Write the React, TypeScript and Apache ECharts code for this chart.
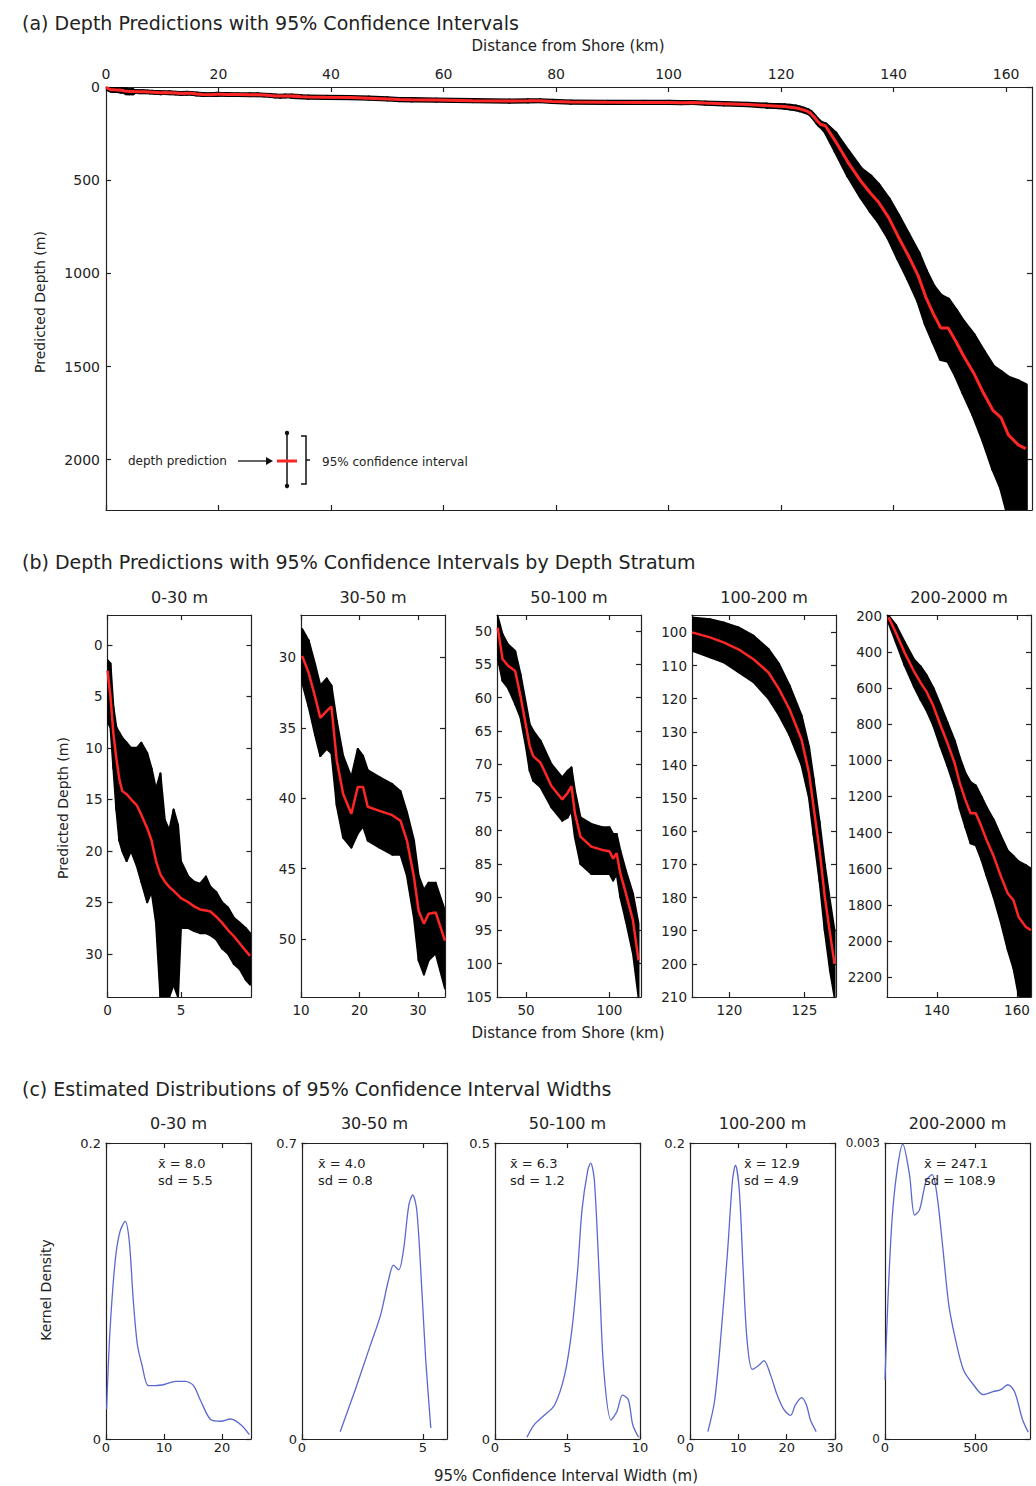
import React, { useEffect, useRef } from "react";
import * as echarts from "echarts";

// ---------------- data ----------------
const strata = ["0-30 m", "30-50 m", "50-100 m", "100-200 m", "200-2000 m"];

// Stratum 0-30 m : distance (km), predicted depth (m), 95% CI shallow / deep bound (m)
const s1Dist = [0.0, 0.2, 0.4, 0.6, 0.8, 1.0, 1.3, 1.6, 2.0, 2.3, 2.7, 3.0, 3.3, 3.6, 3.9, 4.2, 4.5, 4.8, 5.0, 5.5, 5.9, 6.3, 6.7, 7.0, 7.4, 7.8, 8.2, 8.6, 9.0, 9.4, 9.7];
const s1Depth = [2.5, 5, 8.6, 11, 13, 14.2, 14.5, 15, 15.6, 16.5, 17.8, 19, 21, 22.3, 23, 23.5, 23.9, 24.3, 24.6, 25, 25.4, 25.7, 25.8, 25.9, 26.4, 27, 27.7, 28.3, 29, 29.7, 30.2];
const s1Lo = [1.5, 1.8, 6, 8, 8.5, 9, 9.5, 10, 10, 9.5, 10.5, 12, 14, 12.5, 17, 18, 16, 17.5, 21, 22.5, 23, 23.2, 22.5, 23.5, 24, 25, 25.5, 26.5, 27, 27.5, 28];
const s1Hi = [7.5, 8, 12, 16, 19, 20, 21, 20, 21.5, 23, 25, 24, 27, 34.2, 34.2, 34.2, 33, 34.2, 27.5, 27.5, 27.8, 28, 28, 28.2, 28.6, 29.5, 30, 31, 31.5, 32.5, 33];

// Stratum 30-50 m
const s2Dist = [10.2, 11.3, 12.4, 13.3, 14.4, 15.2, 16.1, 17.2, 18.6, 19.7, 20.6, 21.4, 23.4, 25.6, 27.0, 28.1, 29.3, 30.1, 31.0, 31.8, 33.0, 34.6];
const s2Depth = [29.9, 31.1, 32.8, 34.3, 33.8, 33.5, 37.3, 39.7, 41.1, 39.2, 39.2, 40.6, 40.9, 41.2, 41.6, 43.0, 45.6, 48.0, 48.9, 48.2, 48.1, 50.1];
const s2Lo = [28.0, 28.8, 30.5, 32.0, 31.5, 32.0, 34.5, 37.0, 38.5, 36.5, 37.0, 38.0, 38.5, 39.0, 39.5, 41.0, 43.0, 45.5, 46.5, 46.0, 46.0, 48.0];
const s2Hi = [31.8, 33.5, 35.5, 37.0, 36.5, 36.8, 40.5, 42.8, 43.5, 42.5, 42.0, 43.0, 43.5, 44.0, 44.0, 45.5, 48.5, 51.5, 52.5, 51.5, 51.0, 53.5];

// Stratum 50-100 m
const s3Dist = [33.0, 35.9, 39.1, 43.5, 46.7, 50.0, 52.2, 54.3, 58.7, 65.2, 71.7, 75.0, 77.2, 79.3, 82.6, 89.1, 95.6, 100.0, 102.2, 104.3, 106.5, 109.8, 114.1, 117.4];
const s3Depth = [49.5, 54.2, 55.2, 56.0, 59.8, 64.3, 67.3, 68.8, 69.8, 73.3, 75.3, 74.3, 73.3, 77.4, 80.9, 82.4, 82.9, 83.1, 84.2, 83.4, 86.4, 89.4, 93.5, 99.5];
const s3Lo = [47.8, 50.5, 52, 53, 56.5, 61, 64, 65, 66.5, 70, 72, 71, 70.5, 74, 78, 79, 79.5, 79.5, 80.5, 80.5, 83, 86, 89.5, 94];
const s3Hi = [54, 57.5, 58.5, 61, 63, 67.5, 71, 72.5, 73.5, 76.5, 78.5, 78, 77, 81, 85, 86.5, 86.5, 86.5, 87.5, 86.5, 90, 93.5, 98.5, 105];

// Stratum 100-200 m
const s4Dist = [117.5, 118.7, 119.6, 120.6, 121.6, 122.6, 123.3, 124.0, 124.8, 125.3, 125.6, 126.0, 126.35, 126.7, 127.0];
const s4Depth = [100, 101.5, 103, 105.1, 108.1, 112.1, 117.1, 123.2, 132.3, 142.4, 152.5, 165.6, 179.7, 190.8, 200];
const s4Lo = [95.5, 96, 97, 98.5, 101, 105, 109.5, 116, 125, 134.5, 144, 157, 170, 181, 190];
const s4Hi = [105.5, 107.5, 109, 112, 115, 120, 125, 131, 140, 150, 161, 175, 190, 202, 210];

// Stratum 200-2000 m
const s5Dist = [127.9, 129.7, 131.9, 134.2, 135.9, 137.3, 139.1, 140.8, 142.6, 144.4, 145.7, 147.1, 148.4, 149.7, 151.1, 152.4, 154.2, 156.0, 157.7, 159.1, 160.4, 162.2, 163.5];
const s5Depth = [209, 293, 404, 506, 570, 617, 700, 802, 904, 1015, 1126, 1219, 1293, 1293, 1367, 1441, 1533, 1644, 1737, 1774, 1867, 1922, 1941];
const s5Lo = [200, 250, 345, 440, 480, 525, 600, 690, 790, 890, 985, 1070, 1120, 1140, 1200, 1260, 1330, 1420, 1500, 1530, 1560, 1580, 1600];
const s5Hi = [240, 345, 475, 590, 665, 720, 810, 920, 1030, 1150, 1270, 1370, 1460, 1470, 1550, 1640, 1760, 1900, 2050, 2150, 2300, 2350, 2400];

// Kernel densities of 95% CI widths
const c1Width = [0.1, 0.7, 1.6, 2.4, 3.3, 4.0, 4.7, 5.4, 6.2, 7.3, 8.5, 10.2, 12.0, 13.7, 15.1, 16.3, 18.1, 19.8, 21.5, 23.3, 24.7];
const c1Dens = [0.020, 0.074, 0.121, 0.140, 0.147, 0.134, 0.094, 0.064, 0.050, 0.036, 0.036, 0.037, 0.039, 0.039, 0.036, 0.026, 0.013, 0.012, 0.0135, 0.0095, 0.003];
const c2Width = [1.58, 2.2, 2.83, 3.25, 3.58, 3.79, 4.0, 4.2, 4.42, 4.58, 4.75, 4.96, 5.12, 5.33];
const c2Dens = [0.017, 0.116, 0.222, 0.293, 0.376, 0.411, 0.40, 0.447, 0.553, 0.577, 0.541, 0.352, 0.187, 0.026];
const c3Width = [2.2, 2.7, 3.4, 4.1, 4.8, 5.3, 5.7, 6.0, 6.4, 6.6, 6.85, 7.2, 7.5, 8.0, 8.4, 8.8, 9.2, 9.5, 9.9];
const c3Dens = [0.003, 0.024, 0.040, 0.057, 0.108, 0.184, 0.285, 0.387, 0.454, 0.466, 0.438, 0.269, 0.117, 0.032, 0.046, 0.074, 0.066, 0.024, 0.003];
const c4Width = [3.7, 5.1, 6.5, 7.8, 8.8, 9.4, 10.2, 11.0, 11.8, 12.9, 14.3, 15.3, 16.7, 18.0, 19.4, 20.8, 21.8, 23.1, 24.1, 24.9, 26.1];
const c4Dens = [0.005, 0.026, 0.074, 0.128, 0.175, 0.185, 0.168, 0.114, 0.067, 0.047, 0.050, 0.053, 0.043, 0.030, 0.020, 0.016, 0.023, 0.028, 0.023, 0.013, 0.005];
const c5Width = [0, 16, 38, 65, 98, 135, 163, 190, 228, 260, 287, 320, 352, 390, 433, 488, 542, 596, 639, 677, 715, 758, 790];
const c5Dens = [0.0006, 0.0014, 0.0022, 0.0027, 0.00299, 0.00268, 0.00227, 0.00232, 0.00262, 0.00268, 0.00247, 0.00192, 0.00136, 0.0010, 0.0007, 0.00055, 0.00045, 0.00048, 0.0005, 0.00055, 0.00048, 0.0002, 0.00007];

const ciMeans = ["8.0", "4.0", "6.3", "12.9", "247.1"];
const ciSds = ["5.5", "0.8", "1.2", "4.9", "108.9"];

// axis ranges and tick labels
const aDistRange = [0, 164.6];
const aDepthRange = [0, 2270];
const aDistTicks = [0, 20, 40, 60, 80, 100, 120, 140, 160];
const aDepthTicks = [0, 500, 1000, 1500, 2000];
const bDistRanges = [[0, 9.8], [10, 34.6], [32.6, 118.9], [117.5, 127.1], [127.5, 163.5]];
const bDepthRanges = [[-2.9, 34.2], [27, 54.1], [47.6, 105], [94.75, 210], [196, 2310]];
const bDistTicks = [[0, 5], [10, 20, 30], [50, 100], [120, 125], [140, 160]];
const bDepthTicks = [
  [0, 5, 10, 15, 20, 25, 30],
  [30, 35, 40, 45, 50],
  [50, 55, 60, 65, 70, 75, 80, 85, 90, 95, 100, 105],
  [100, 110, 120, 130, 140, 150, 160, 170, 180, 190, 200, 210],
  [200, 400, 600, 800, 1000, 1200, 1400, 1600, 1800, 2000, 2200],
];
const cWidthMax = [25, 6, 10, 30, 800];
const cWidthTicks = [[0, 10, 20], [0, 5], [0, 5, 10], [0, 10, 20, 30], [0, 500]];
const cDensityMax = [0.2, 0.7, 0.5, 0.2, 0.003];

// ---------------- layout / style ----------------
const FONT = "DejaVu Sans";
const INK = "#222";
const RED = "#ff2626";
const BLUE = "#5a68cf";
const A_RECT = { left: 106, top: 87, width: 926, height: 423 };
const B_LEFTS = [107.5, 301, 497, 692, 887];
const B_TOP = 615, B_H = 382, B_W = 144;
const C_LEFTS = [106, 302, 495, 690, 885];
const C_TOP = 1143, C_H = 296, C_W = 145;
const STAT_OFFSETS = [52, 16, 15, 54, 39];

const strataDist = [s1Dist, s2Dist, s3Dist, s4Dist, s5Dist];
const strataDepth = [s1Depth, s2Depth, s3Depth, s4Depth, s5Depth];
const strataLo = [s1Lo, s2Lo, s3Lo, s4Lo, s5Lo];
const strataHi = [s1Hi, s2Hi, s3Hi, s4Hi, s5Hi];
const densW = [c1Width, c2Width, c3Width, c4Width, c5Width];
const densD = [c1Dens, c2Dens, c3Dens, c4Dens, c5Dens];

function axis(gi: number, position: string, min: number, max: number, ticks: number[], show: boolean, fs: number, inverse: boolean, margin: number) {
  return {
    type: "value",
    gridIndex: gi,
    position,
    min,
    max,
    inverse,
    axisLine: { show: true, onZero: false, lineStyle: { color: INK, width: 1.2 } },
    axisTick: { show: true, inside: true, length: 5, customValues: ticks, lineStyle: { color: INK, width: 1.2 } },
    axisLabel: {
      show,
      customValues: ticks,
      color: INK,
      fontSize: fs,
      fontFamily: FONT,
      margin,
      hideOverlap: false,
      formatter: (v: number) => String(v),
    },
    splitLine: { show: false },
  };
}

function buildOption() {
  const grids: any[] = [];
  const xAxes: any[] = [];
  const yAxes: any[] = [];
  const series: any[] = [];

  const addGrid = (left: number, top: number, width: number, height: number) => {
    grids.push({ left, top, width, height, containLabel: false, outerBoundsMode: "none" });
    return grids.length - 1;
  };

  const bandSeries = (gi: number, dist: number[], depth: number[], lo: number[], hi: number[], edgeW: number, redW: number) => {
    // each item: one segment of the confidence band between consecutive predictions
    const segs: number[][] = [];
    for (let i = 0; i < dist.length - 1; i++) {
      segs.push([dist[i], lo[i], hi[i], dist[i + 1], lo[i + 1], hi[i + 1]]);
    }
    const pred = dist.map((d, i) => [d, depth[i]]);
    const ax = { xAxisIndex: 2 * gi, yAxisIndex: 2 * gi };
    series.push({
      type: "custom",
      ...ax,
      data: segs,
      clip: true,
      encode: { x: [0, 3], y: [1, 2, 4, 5] },
      renderItem: (params: any, api: any) => {
        const a = api.coord([api.value(0), api.value(1)]);
        const b = api.coord([api.value(3), api.value(4)]);
        const c = api.coord([api.value(3), api.value(5)]);
        const d = api.coord([api.value(0), api.value(2)]);
        return {
          type: "polygon",
          shape: { points: [a, b, c, d] },
          style: { fill: "#000", stroke: "#000", lineWidth: edgeW, lineJoin: "round" },
        };
      },
      z: 2,
    });
    series.push({ type: "line", ...ax, data: pred, symbol: "none", lineStyle: { color: RED, width: redW }, z: 3 });
  };

  // Panel (a)
  const ga = addGrid(A_RECT.left, A_RECT.top, A_RECT.width, A_RECT.height);
  xAxes.push(axis(ga, "top", aDistRange[0], aDistRange[1], aDistTicks, true, 14, false, 6));
  xAxes.push(axis(ga, "bottom", aDistRange[0], aDistRange[1], aDistTicks, false, 14, false, 6));
  yAxes.push(axis(ga, "left", aDepthRange[0], aDepthRange[1], aDepthTicks, true, 14, true, 6));
  yAxes.push(axis(ga, "right", aDepthRange[0], aDepthRange[1], aDepthTicks, false, 14, true, 6));
  bandSeries(ga, strataDist.flat(), strataDepth.flat(), strataLo.flat(), strataHi.flat(), 4, 3);

  // Panel (b)
  for (let k = 0; k < 5; k++) {
    const g = addGrid(B_LEFTS[k], B_TOP, B_W, B_H);
    const [x0, x1] = bDistRanges[k];
    const [y0, y1] = bDepthRanges[k];
    xAxes.push(axis(g, "bottom", x0, x1, bDistTicks[k], true, 13.5, false, 6));
    xAxes.push(axis(g, "top", x0, x1, bDistTicks[k], false, 13.5, false, 6));
    yAxes.push(axis(g, "left", y0, y1, bDepthTicks[k], true, 13.5, true, 5));
    yAxes.push(axis(g, "right", y0, y1, bDepthTicks[k], false, 13.5, true, 5));
    bandSeries(g, strataDist[k], strataDepth[k], strataLo[k], strataHi[k], 2, 2.5);
  }

  // Panel (c)
  for (let k = 0; k < 5; k++) {
    const g = addGrid(C_LEFTS[k], C_TOP, C_W, C_H);
    const fs = k === 4 ? 12 : 13;
    xAxes.push(axis(g, "bottom", 0, cWidthMax[k], cWidthTicks[k], true, 13, false, 2));
    xAxes.push(axis(g, "top", 0, cWidthMax[k], cWidthTicks[k], false, 13, false, 2));
    yAxes.push(axis(g, "left", 0, cDensityMax[k], [0, cDensityMax[k]], true, fs, false, 5));
    yAxes.push(axis(g, "right", 0, cDensityMax[k], [0, cDensityMax[k]], false, fs, false, 5));
    series.push({
      type: "line",
      xAxisIndex: 2 * g,
      yAxisIndex: 2 * g,
      data: densW[k].map((w, i) => [w, densD[k][i]]),
      symbol: "none",
      smooth: 0.3,
      lineStyle: { color: BLUE, width: 1.3 },
      z: 3,
    });
  }

  const txt = (x: number, y: number, text: string, size: number, align = "left", rot = 0) => ({
    type: "text",
    x,
    y,
    rotation: rot,
    z: 100,
    style: {
      text,
      fill: INK,
      fontSize: size,
      fontFamily: FONT,
      textAlign: align,
      align,
      textVerticalAlign: "middle",
      verticalAlign: "middle",
    },
  });

  const graphics: any[] = [
    txt(22, 23, "(a) Depth Predictions with 95% Confidence Intervals", 19),
    txt(568, 46, "Distance from Shore (km)", 15, "center"),
    txt(40, 302, "Predicted Depth (m)", 14, "center", Math.PI / 2),
    txt(22, 562, "(b) Depth Predictions with 95% Confidence Intervals by Depth Stratum", 19),
    txt(63, 808, "Predicted Depth (m)", 14, "center", Math.PI / 2),
    txt(568, 1033, "Distance from Shore (km)", 15, "center"),
    txt(22, 1089, "(c) Estimated Distributions of 95% Confidence Interval Widths", 19),
    txt(46, 1290, "Kernel Density", 14, "center", Math.PI / 2),
    txt(566, 1476, "95% Confidence Interval Width (m)", 15, "center"),
  ];
  for (let k = 0; k < 5; k++) {
    graphics.push(txt(B_LEFTS[k] + B_W / 2, 597, strata[k], 16, "center"));
    graphics.push(txt(C_LEFTS[k] + C_W / 2, 1123, strata[k], 16, "center"));
    graphics.push(txt(C_LEFTS[k] + STAT_OFFSETS[k], 1163, "x\u0304 = " + ciMeans[k], 13));
    graphics.push(txt(C_LEFTS[k] + STAT_OFFSETS[k], 1180, "sd = " + ciSds[k], 13));
  }
  // legend sample in panel (a)
  graphics.push(txt(128, 461, "depth prediction", 12));
  graphics.push({ type: "line", z: 100, shape: { x1: 238, y1: 461, x2: 267, y2: 461 }, style: { stroke: "#111", lineWidth: 1.3 } });
  graphics.push({ type: "polygon", z: 100, shape: { points: [[266, 457], [273, 461], [266, 465]] }, style: { fill: "#111" } });
  graphics.push({ type: "line", z: 100, shape: { x1: 287, y1: 433, x2: 287, y2: 486 }, style: { stroke: "#111", lineWidth: 1.5 } });
  graphics.push({ type: "circle", z: 100, shape: { cx: 287, cy: 433, r: 2.2 }, style: { fill: "#111" } });
  graphics.push({ type: "circle", z: 100, shape: { cx: 287, cy: 486, r: 2.2 }, style: { fill: "#111" } });
  graphics.push({ type: "line", z: 101, shape: { x1: 277, y1: 461, x2: 297, y2: 461 }, style: { stroke: RED, lineWidth: 3 } });
  graphics.push({ type: "polyline", z: 100, shape: { points: [[301, 436], [306, 436], [306, 484], [301, 484]] }, style: { stroke: "#111", lineWidth: 1.5, fill: null } });
  graphics.push({ type: "line", z: 100, shape: { x1: 306, y1: 460, x2: 310, y2: 460 }, style: { stroke: "#111", lineWidth: 1.5 } });
  graphics.push(txt(322, 462, "95% confidence interval", 12));

  return {
    animation: false,
    backgroundColor: "#fff",
    textStyle: { fontFamily: FONT },
    grid: grids,
    xAxis: xAxes,
    yAxis: yAxes,
    series,
    graphic: graphics,
  };
}

export default function App() {
  const ref = useRef<HTMLDivElement | null>(null);
  useEffect(() => {
    if (!ref.current) return;
    const chart = echarts.init(ref.current, null, { renderer: "svg" });
    chart.setOption(buildOption() as any);
    return () => chart.dispose();
  }, []);
  return <div ref={ref} style={{ position: "absolute", left: 0, top: 0, width: 1036, height: 1486 }} />;
}
